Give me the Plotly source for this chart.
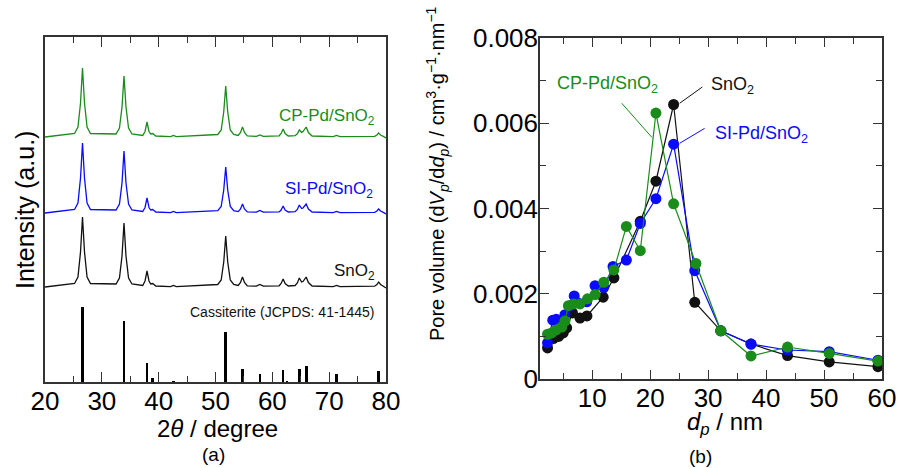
import plotly.graph_objects as go

# ---------------- (a) XRD data ----------------
two_theta = [20,
             25.2, 25.8, 26.25, 26.6, 26.95, 27.4, 28.0,
             32.5, 33.1, 33.55, 33.9, 34.25, 34.7, 35.3,
             37.2, 37.6, 37.95, 38.3, 38.6, 38.95, 39.5,
             42.1, 42.6, 43.1,
             50.4, 51.0, 51.45, 51.8, 52.15, 52.6, 53.2,
             54.0, 54.4, 54.75, 55.1, 55.6,
             57.2, 57.8, 58.4,
             61.2, 61.55, 61.9, 62.25, 62.8,
             64.0, 64.4, 64.75, 65.15, 65.4, 65.95, 66.35, 67.0,
             70.7, 71.3, 71.9,
             78.0, 78.4, 78.7, 79.05, 79.6,
             80]

int_sno2 = [0,
            3.5, 10, 35, 70, 35, 10, 3.5,
            3, 9, 31, 64, 31, 9, 3,
            1.5, 6, 16, 6, 3, 3.5, 1,
            0.3, 1.5, 0.3,
            2.5, 7, 25, 51, 25, 7, 2.5,
            1.5, 4.5, 10, 4.5, 1.2,
            0.8, 2.5, 0.8,
            1.2, 3.5, 8, 3.5, 1,
            1.5, 4, 9, 5, 5.5, 10, 4.5, 1,
            0.3, 1.5, 0.3,
            0.8, 2.5, 5, 2.5, 0.5,
            -1]

int_si = [0,
          3.5, 10, 35, 70, 35, 10, 3.5,
          3, 9, 30, 62, 30, 9, 3,
          1.5, 5.5, 15, 5.5, 3, 3.5, 1,
          0.3, 1.5, 0.3,
          2.3, 6.5, 23, 46, 23, 6.5, 2.3,
          1.4, 4, 9, 4, 1.1,
          0.8, 2.5, 0.8,
          1.1, 3, 7, 3, 1,
          1.4, 3.6, 8, 4.5, 5, 9, 4, 1,
          0.3, 1.5, 0.3,
          0.7, 2, 4, 2, 0.4,
          -1]

int_cp = [0,
          3.5, 10, 34, 69, 34, 10, 3.5,
          3, 9, 30, 61, 30, 9, 3,
          1.5, 5.5, 15, 5.5, 3, 3.5, 1,
          0.3, 1.5, 0.3,
          2.5, 7, 25, 51, 25, 7, 2.5,
          1.5, 4.5, 10, 4.5, 1.2,
          0.6, 2, 0.6,
          1.2, 3.5, 8, 3.5, 1,
          1.3, 3.2, 7, 4.5, 5.5, 10, 4.5, 1,
          0.3, 1.5, 0.3,
          0.7, 2, 4, 2, 0.4,
          -1]

offset_sno2 = 95
offset_si = 169
offset_cp = 245

ref_pos = [26.61, 33.89, 37.95, 38.97, 42.64, 51.78, 54.76, 57.82,
           61.87, 62.59, 64.72, 65.94, 71.28, 78.71]
ref_int = [75, 61, 19, 4, 1, 50, 13, 8, 12, 1, 13, 16, 8, 11]

# ---------------- (b) pore size distribution ----------------
dp_sno2 = [2.3, 3.3, 4.2, 5.0, 5.6, 6.6, 7.9, 9.1, 11.9, 13.75, 18.3,
           21.0, 24.05, 27.7, 32.2, 37.4, 43.7, 50.9, 59.3]
pv_sno2 = [0.00073, 0.00095, 0.00100, 0.00108, 0.00120, 0.00155, 0.00143,
           0.00148, 0.00192, 0.00237, 0.00370, 0.00464, 0.00644, 0.00180,
           0.00113, 0.00082, 0.00055, 0.00040, 0.00029]

dp_si = [2.3, 3.2, 3.8, 5.3, 6.2, 6.9, 9.05, 10.5, 12.0, 13.6, 15.9, 18.3,
         21.0, 24.05, 27.7, 32.2, 37.4, 43.7, 50.9, 59.3]
pv_si = [0.00085, 0.00138, 0.00140, 0.00151, 0.00172, 0.00195, 0.00181,
         0.00219, 0.00215, 0.00264, 0.00279, 0.00365, 0.00423, 0.00551,
         0.00254, 0.00113, 0.00082, 0.00068, 0.00064, 0.00044]

dp_cp = [2.3, 3.0, 3.8, 4.75, 5.3, 5.9, 6.8, 7.9, 9.2, 10.5, 12.0, 13.75,
         15.9, 18.3, 21.0, 24.05, 27.9, 32.2, 37.4, 43.7, 50.9, 59.3]
pv_cp = [0.00105, 0.00108, 0.00115, 0.00122, 0.00136, 0.00172, 0.00176,
         0.00176, 0.00188, 0.00198, 0.00227, 0.00256, 0.00358, 0.00301,
         0.00624, 0.00411, 0.00271, 0.00113, 0.00054, 0.00075, 0.00060,
         0.00042]

y_ticks_b = [0, 0.002, 0.004, 0.006, 0.008]
y_ticktext_b = ["0", "0.002", "0.004", "0.006", "0.008"]
x_ticks_a = [20, 30, 40, 50, 60, 70, 80]
x_ticks_b = [10, 20, 30, 40, 50, 60]

GREEN = "#1a8c1a"
BLUE = "#0a0aff"
BLACK = "#111111"
FONT = "Liberation Sans, Arial, sans-serif"

W, H = 898, 468


def fx(px):
    return px / W


def fy(py):
    return 1 - py / H


fig = go.Figure()

for ints, off, col in [(int_sno2, offset_sno2, BLACK),
                       (int_si, offset_si, BLUE),
                       (int_cp, offset_cp, GREEN)]:
    fig.add_trace(go.Scatter(x=two_theta, y=[v + off for v in ints],
                             mode="lines", line=dict(color=col, width=1.3),
                             xaxis="x", yaxis="y", showlegend=False,
                             hoverinfo="skip"))

fig.add_trace(go.Bar(x=ref_pos, y=ref_int, width=0.5,
                     marker=dict(color="black", line=dict(width=0)),
                     xaxis="x", yaxis="y", showlegend=False))

for dp, pv, col in [(dp_sno2, pv_sno2, BLACK), (dp_si, pv_si, BLUE),
                    (dp_cp, pv_cp, GREEN)]:
    fig.add_trace(go.Scatter(x=dp, y=pv, mode="lines+markers",
                             line=dict(color=col, width=1.2),
                             marker=dict(color=col, size=11),
                             xaxis="x2", yaxis="y2", showlegend=False))

axis_common = dict(showline=True, linecolor="#333333", linewidth=1.5,
                   mirror="ticks", showgrid=False, zeroline=False,
                   automargin=False, ticklabelstandoff=-5,
                   ticks="inside", tickcolor="#333333", tickwidth=1.3,
                   tickfont=dict(family=FONT, size=26, color="black"))

fig.update_layout(
    width=W, height=H,
    margin=dict(l=0, r=0, t=0, b=0, pad=0, autoexpand=False),
    paper_bgcolor="white", plot_bgcolor="white",
    bargap=0,
    xaxis=dict(domain=[fx(45), fx(386)], range=[20, 80],
               tickvals=x_ticks_a, ticklen=10,
               minor=dict(ticks="inside", dtick=5, ticklen=6,
                          tickcolor="#333333", tickwidth=1.3),
               anchor="y", **axis_common),
    yaxis=dict(domain=[fy(382), fy(37)], range=[0, 345],
               showline=True, linecolor="#333333", linewidth=1.5,
               mirror=True, showgrid=False, zeroline=False, automargin=False,
               showticklabels=False, ticks="", anchor="x"),
    xaxis2=dict(domain=[fx(540), fx(882)], range=[1, 60],
                tickvals=x_ticks_b, ticklen=9,
                minor=dict(ticks="inside", dtick=5, tick0=0, ticklen=6,
                           tickcolor="#333333", tickwidth=1.3),
                anchor="y2", **axis_common),
    yaxis2=dict(domain=[fy(379), fy(38)], range=[0, 0.008],
                tickvals=y_ticks_b, ticktext=y_ticktext_b, ticklen=9,
                minor=dict(ticks="inside", dtick=0.001, ticklen=6,
                           tickcolor="#333333", tickwidth=1.3),
                anchor="x2", **axis_common),
)


def pann(text, px, py, size, angle=0, color="black"):
    fig.add_annotation(text=text, x=fx(px), y=fy(py), xref="paper",
                       yref="paper", showarrow=False, textangle=angle,
                       xanchor="center", yanchor="middle",
                       font=dict(family=FONT, size=size, color=color))


pann("2<i>θ</i> / degree", 217, 428, 24)
pann("Intensity (a.u.)", 25, 210, 25, angle=-90)
pann("(a)", 213, 454, 19)
pann("<i>d</i><sub><i>p</i></sub> / nm", 725, 423, 24)
pann("Pore volume (d<i>V</i><sub><i>p</i></sub>/d<i>d</i><sub><i>p</i></sub>) / "
     "cm<sup>3</sup>·g<sup>−1</sup>·nm<sup>−1</sup>", 437, 174, 20, angle=-90)
pann("(b)", 700, 456, 19)


def dann(text, x, y, size, color, xr="x", yr="y"):
    fig.add_annotation(text=text, x=x, y=y, xref=xr, yref=yr,
                       showarrow=False, xanchor="center", yanchor="middle",
                       font=dict(family=FONT, size=size, color=color))


dann("CP-Pd/SnO<sub>2</sub>", 69.6, 265, 17, GREEN)
dann("SI-Pd/SnO<sub>2</sub>", 70.0, 192, 17, BLUE)
dann("SnO<sub>2</sub>", 74.5, 110, 17, BLACK)
dann("Cassiterite (JCPDS: 41-1445)", 61.7, 70, 14, BLACK)

dann("CP-Pd/SnO<sub>2</sub>", 12.7, 0.00692, 18, GREEN, "x2", "y2")
dann("SnO<sub>2</sub>", 34.2, 0.00688, 18, BLACK, "x2", "y2")
dann("SI-Pd/SnO<sub>2</sub>", 39.2, 0.00574, 18, BLUE, "x2", "y2")

for (x0, y0, x1, y1, col) in [(15.1, 0.00647, 20.3, 0.00567, GREEN),
                              (25.1, 0.00647, 29.0, 0.00685, BLACK),
                              (25.1, 0.00553, 29.4, 0.00588, BLUE)]:
    fig.add_shape(type="line", xref="x2", yref="y2", x0=x0, y0=y0,
                  x1=x1, y1=y1, line=dict(color=col, width=1))

# remove the page's default body margin so the figure fills the window
fig.write_html("out.html",
               config={"displayModeBar": False},
               post_script="document.body.style.margin='0';"
                           "document.documentElement.style.overflow='hidden';")
